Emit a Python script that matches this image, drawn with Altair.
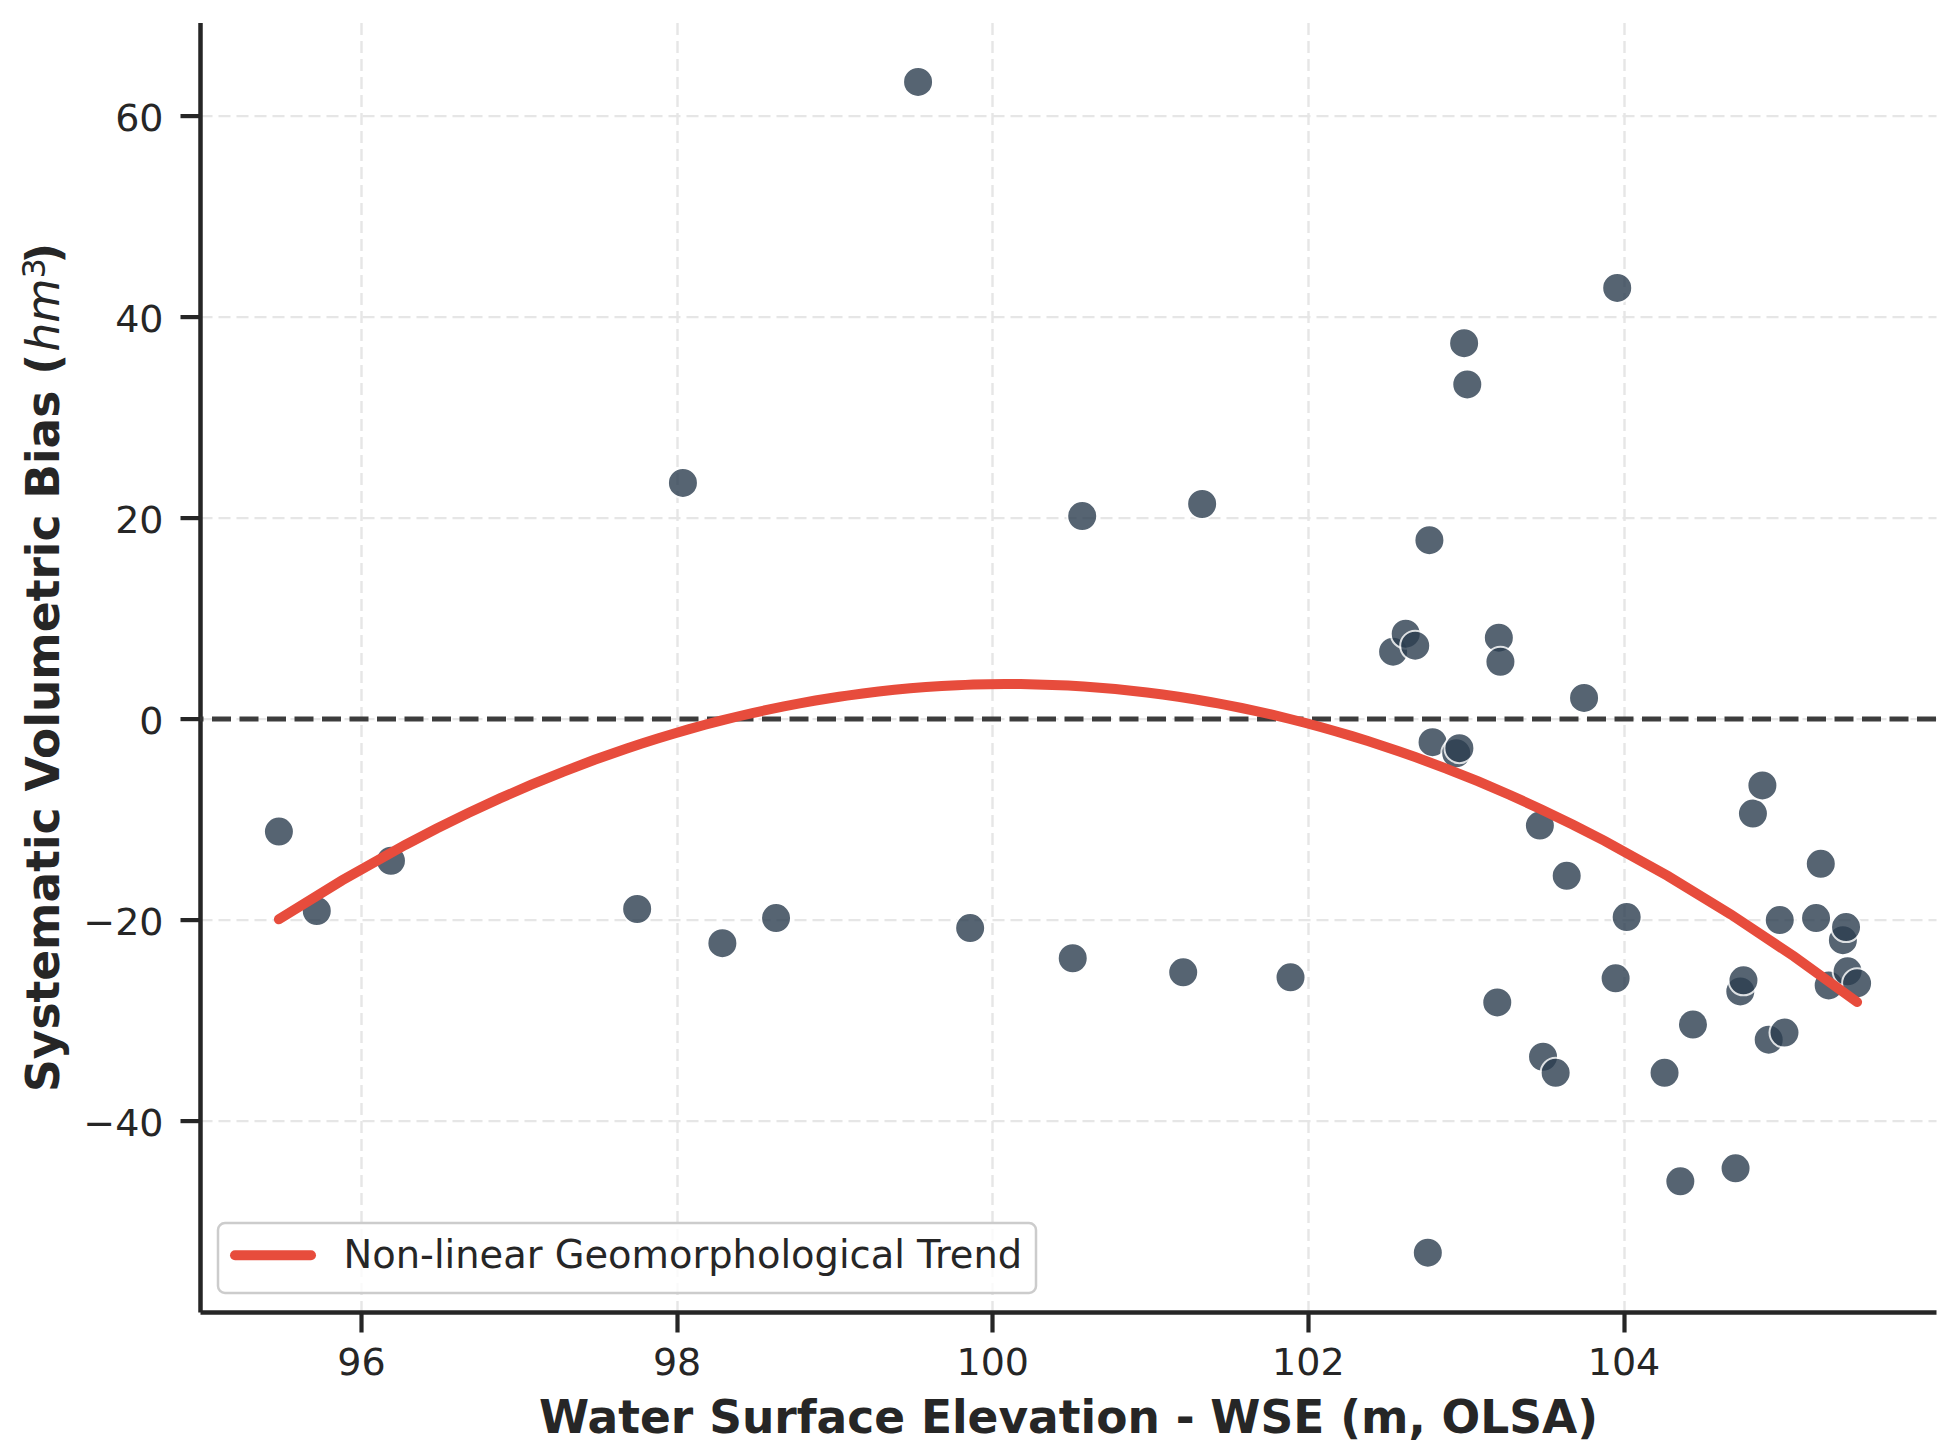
import altair as alt
import pandas as pd

# ---- data ----
wse = [95.48, 95.72, 96.19, 97.75, 98.04, 98.29, 98.63, 99.53, 99.86, 100.51,
       100.57, 101.21, 101.33, 101.89, 102.54, 102.62, 102.68, 102.77, 102.76, 102.79,
       102.94, 102.96, 102.99, 103.01, 103.21, 103.22, 103.20, 103.47, 103.49, 103.57,
       103.64, 103.75, 103.95, 103.96, 104.02, 104.26, 104.36, 104.44, 104.71, 104.74,
       104.76, 104.82, 104.88, 104.92, 104.99, 105.02, 105.22, 105.25, 105.30, 105.39,
       105.41, 105.42, 105.48]
bias = [-11.2, -19.1, -14.1, -18.9, 23.5, -22.3, -19.8, 63.4, -20.8, -23.8,
        20.2, -25.2, 21.4, -25.7, 6.7, 8.5, 7.3, 17.8, -53.1, -2.3,
        -3.4, -2.9, 37.4, 33.3, 8.1, 5.7, -28.2, -10.6, -33.6, -35.2,
        -15.6, 2.1, -25.8, 42.9, -19.7, -35.2, -46.0, -30.4, -44.7, -27.1,
        -26.0, -9.4, -6.6, -31.9, -20.0, -31.2, -19.8, -14.4, -26.5, -22.0,
        -20.7, -25.1, -26.3]
x_ticks = [96, 98, 100, 102, 104]
y_ticks = [-40, -20, 0, 20, 40, 60]
x_domain = [94.98, 105.98]
y_domain = [-59.0, 69.3]
x_title = "Water Surface Elevation - WSE (m, OLSA)"
y_title_parts = ["Systematic Volumetric Bias (", "hm", "3", ")"]
legend_label = "Non-linear Geomorphological Trend"
zero_line = [0]

df = pd.DataFrame({"wse": wse, "bias": bias})

W, H = 1736, 1289.4
FONT = "DejaVu Sans"
INK = "#262626"

xscale = alt.Scale(domain=x_domain, nice=False, zero=False)
yscale = alt.Scale(domain=y_domain, nice=False, zero=False)

common_axis = dict(
    labelFont=FONT, labelFontSize=38, labelColor=INK,
    tickSize=20, tickWidth=4.2, tickColor=INK,
    domainColor=INK, domainWidth=4.5,
    grid=True, gridColor="#e6e6e6", gridDash=[12, 6], gridWidth=2.4,
    labelFlush=False, labelOverlap=False, labelBound=False,
    format="d",
)

xaxis = alt.Axis(values=x_ticks, labelPadding=12, title=x_title,
                 titleFont=FONT, titleFontSize=45.5, titleFontWeight="bold",
                 titleColor=INK, titleY=120, titleBaseline="alphabetic",
                 **common_axis)
yaxis = alt.Axis(values=y_ticks, labelPadding=17, labelOffset=3, title="",
                 **common_axis)

base = alt.Chart(df)

zero = alt.Chart(pd.DataFrame({"z": zero_line})).mark_rule(
    color="#333333", strokeWidth=5, strokeDash=[19, 8.5], opacity=0.95
).encode(y=alt.Y("z:Q", scale=yscale, axis=yaxis))

points = base.mark_circle(
    size=900, color="#2c3e50", opacity=0.8, stroke="white", strokeWidth=2
).encode(
    x=alt.X("wse:Q", scale=xscale, axis=xaxis),
    y=alt.Y("bias:Q", scale=yscale, axis=yaxis),
)

trend = base.transform_regression(
    "wse", "bias", method="poly", order=2
).mark_line(color="#e74c3c", strokeWidth=10, strokeCap="round").encode(
    x=alt.X("wse:Q", scale=xscale),
    y=alt.Y("bias:Q", scale=yscale),
)

# ---- legend (drawn by hand to match the boxed matplotlib legend) ----
leg_df = pd.DataFrame({"label": [legend_label]})
leg_box = alt.Chart(leg_df).mark_rect(
    fill="white", fillOpacity=0.8, stroke="#cccccc", strokeWidth=2.5, cornerRadius=7
).encode(x=alt.value(18), x2=alt.value(836), y=alt.value(1200.4), y2=alt.value(1270.4))
leg_line = alt.Chart(leg_df).mark_rule(
    color="#e74c3c", strokeWidth=10, strokeCap="round"
).encode(x=alt.value(35), x2=alt.value(111), y=alt.value(1232.7))
leg_text = alt.Chart(leg_df).mark_text(
    font=FONT, fontSize=38.4, color=INK, align="left", baseline="alphabetic"
).encode(x=alt.value(143.5), y=alt.value(1245.7), text="label:N")

# ---- y-axis title with italic hm and superscript 3 ----
tx = -141.5
def ytext(s, y, size=45.5, weight="bold", style="normal", dx=0.0, align="left"):
    return alt.Chart(pd.DataFrame({"t": [s]})).mark_text(
        font=FONT, fontSize=size, fontWeight=weight, fontStyle=style, color=INK,
        angle=270, align=align, baseline="alphabetic"
    ).encode(x=alt.value(tx + dx), y=alt.value(y), text="t:N")

yt1 = ytext(y_title_parts[0], 1069.4)
yt2 = ytext(y_title_parts[1], 329.0, weight="normal", style="italic")
yt3 = ytext(y_title_parts[2], 255.8, size=32, weight="normal", dx=-14)
yt4 = ytext(y_title_parts[3], 220.4, align="right")

chart = alt.layer(
    zero, points, trend, leg_box, leg_line, leg_text, yt1, yt2, yt3, yt4
).properties(
    width=W, height=H,
    autosize=alt.AutoSizeParams(type="none"),
    padding={"left": 192, "top": 14.6, "right": 15, "bottom": 134},
    background="white",
).configure_view(strokeWidth=0)

chart.save("out.html", embed_options={"renderer": "svg", "actions": False})
